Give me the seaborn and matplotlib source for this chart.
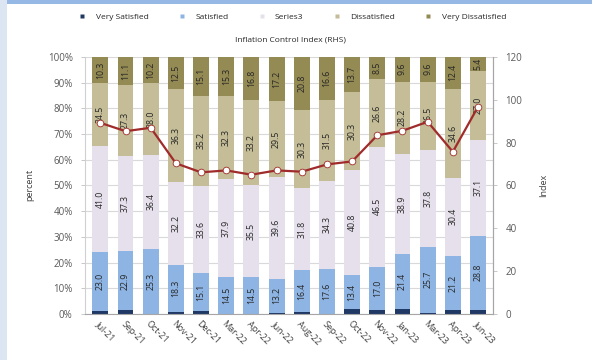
import numpy as np
import pandas as pd
import matplotlib
matplotlib.use("Agg")
import matplotlib.pyplot as plt
from matplotlib.lines import Line2D
from matplotlib.patches import Rectangle
import seaborn as sns

# Survey periods
periods = ["Jul-21", "Sep-21", "Oct-21", "Nov-21", "Dec-21", "Mar-22", "Apr-22", "Jun-22",
           "Aug-22", "Sep-22", "Oct-22", "Nov-22", "Jan-23", "Mar-23", "Apr-23", "Jun-23"]

# Shares of respondents (percent)
very_satisfied = [1.2, 1.4, 0.1, 0.7, 1.0, 0.0, 0.0, 0.5, 0.7, 0.0, 1.8, 1.4, 1.9, 0.4, 1.4, 1.7]
satisfied = [23.0, 22.9, 25.3, 18.3, 15.1, 14.5, 14.5, 13.2, 16.4, 17.6, 13.4, 17.0, 21.4, 25.7, 21.2, 28.8]
series3 = [41.0, 37.3, 36.4, 32.2, 33.6, 37.9, 35.5, 39.6, 31.8, 34.3, 40.8, 46.5, 38.9, 37.8, 30.4, 37.1]
dissatisfied = [24.5, 27.3, 28.0, 36.3, 35.2, 32.3, 33.2, 29.5, 30.3, 31.5, 30.3, 26.6, 28.2, 26.5, 34.6, 27.0]
very_dissatisfied = [10.3, 11.1, 10.2, 12.5, 15.1, 15.3, 16.8, 17.2, 20.8, 16.6, 13.7, 8.5, 9.6, 9.6, 12.4, 5.4]

# Inflation Control Index (right-hand scale)
inflation_index = [89.2, 85.3, 86.9, 70.3, 66.1, 67.0, 65.0, 67.0, 66.4, 69.8, 71.2, 83.4, 85.5, 89.7, 75.7, 96.7]

names = ["Very Satisfied", "Satisfied", "Series3", "Dissatisfied", "Very Dissatisfied"]
colors = ["#1f3864", "#8eb4e3", "#e6e0ec", "#c4bd97", "#948a54"]
series = [very_satisfied, satisfied, series3, dissatisfied, very_dissatisfied]

df = pd.DataFrame({"period": periods})
for n, s in zip(names, series):
    df[n] = s
cum = df[names].cumsum(axis=1)

sns.set_theme(style="white")
plt.rcParams["font.family"] = ["Open Sans", "DejaVu Sans"]

fig = plt.figure(figsize=(5.92, 3.6), dpi=100)
fig.patch.set_facecolor("white")
# frame accents
fig.patches.append(Rectangle((0, 0), 0.012, 1, transform=fig.transFigure,
                             facecolor="#dce6f2", edgecolor="none", zorder=0))
fig.patches.append(Rectangle((0.012, 0.988), 0.988, 0.012, transform=fig.transFigure,
                             facecolor="#95b9e4", edgecolor="none", zorder=0))

ax = fig.add_axes([0.144, 0.128, 0.689, 0.714])

# stacked bars drawn as overlaid cumulative totals, tallest first
for n, c in zip(names[::-1], colors[::-1]):
    sns.barplot(x=df["period"], y=cum[n], color=c, width=0.63, saturation=1,
                ax=ax, zorder=2, edgecolor="none")

ax.set_ylim(0, 100)
ax.set_yticks(np.arange(0, 101, 10))
ax.set_yticklabels([f"{v}%" for v in range(0, 101, 10)])
ax.yaxis.grid(True, color="#d9d9d9", lw=0.8, zorder=0)
ax.set_axisbelow(True)
ax.set_xlim(-0.6, len(periods) - 0.4)
ax.set_xlabel("")
ax.set_ylabel("percent", fontsize=6.5, color="#404040", labelpad=10)
ax.tick_params(axis="y", labelsize=7, colors="#595959", length=3, width=0.6, color="#bfbfbf", pad=6)
ax.tick_params(axis="x", labelsize=6.5, colors="#404040", length=2, width=0.6, color="#bfbfbf", pad=2)
plt.setp(ax.get_xticklabels(), rotation=-45, ha="left", va="top", rotation_mode="anchor")
ax.spines["top"].set_visible(False)
ax.spines["left"].set_color("#d0d0d0")
ax.spines["bottom"].set_color("#a6a6a6")
ax.spines["right"].set_color("#a6a6a6")
for sp in ax.spines.values():
    sp.set_linewidth(0.8)

# segment value labels
lower = df[names].cumsum(axis=1) - df[names]
for i in range(len(periods)):
    for n in names[1:]:
        v = df.loc[i, n]
        yc = lower.loc[i, n] + v / 2
        ax.text(i, yc, f"{v:.1f}", rotation=90, ha="center", va="center",
                fontsize=6.3, color="#262626", zorder=4)

# index line on the secondary axis
ax2 = ax.twinx()
sns.lineplot(x=np.arange(len(periods)), y=inflation_index, ax=ax2, color="#a02b2b",
             lw=1.6, marker="o", markersize=4.8, markerfacecolor="white",
             markeredgecolor="#a02b2b", markeredgewidth=0.6, zorder=5)
ax2.set_ylim(0, 120)
ax2.set_yticks(np.arange(0, 121, 20))
ax2.set_ylabel("Index", fontsize=6.5, color="#404040", labelpad=12)
ax2.tick_params(axis="y", labelsize=7, colors="#595959", length=3, width=0.6, color="#bfbfbf", pad=6)
ax2.grid(False)
for side in ["top", "left", "bottom"]:
    ax2.spines[side].set_visible(False)
ax2.spines["right"].set_color("#a6a6a6")
ax2.spines["right"].set_linewidth(0.8)

# legend
handles = [Line2D([], [], marker="s", linestyle="none", markersize=3.2,
                  markerfacecolor=c, markeredgecolor="none") for c in colors]
fig.legend(handles, names, loc="center", bbox_to_anchor=(0.49, 0.952), ncol=5,
           frameon=False, fontsize=6, handletextpad=0.6, columnspacing=3.0,
           labelcolor="#262626")
fig.text(0.49, 0.888, "Inflation Control Index (RHS)", ha="center", va="center",
         fontsize=6, color="#262626")

fig.savefig("out.png", dpi=100)
